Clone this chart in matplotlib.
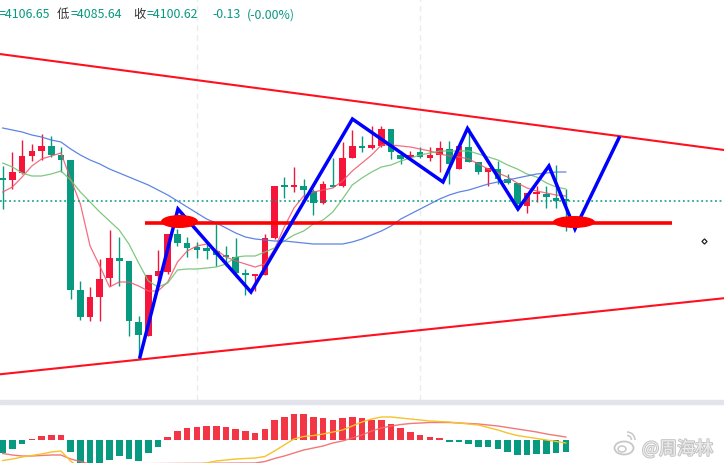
import matplotlib
matplotlib.use('Agg')
import matplotlib.pyplot as plt
from matplotlib.patches import Ellipse, Rectangle, Arc
import matplotlib.patheffects as pe
import numpy as np

plt.rcParams['font.family'] = ['Noto Sans CJK SC', 'DejaVu Sans']

# ---------------- data ----------------
opens = [4112.1, 4111.1, 4114.6, 4123.1, 4125.6, 4128.1, 4123.6, 4121.1, 4056.1, 4042.6,
         4052.6, 4062.1, 4072.1, 4070.6, 4040.1, 4033.1, 4063.1, 4065.1, 4084.1, 4079.6,
         4077.6, 4077.1, 4075.6, 4073.6, 4072.6, 4064.6, 4063.1, 4063.6, 4082.1, 4108.6,
         4107.6, 4108.1, 4105.6, 4099.6, 4108.6, 4108.1, 4122.1, 4128.1, 4127.1, 4128.1,
         4136.6, 4123.6, 4122.6, 4125.1, 4122.1, 4123.6, 4126.6, 4116.6, 4127.6, 4120.1,
         4115.1, 4116.6, 4111.6, 4109.6, 4098.1, 4104.1, 4104.1, 4102.1, 4101.2]
highs = [4118.1, 4125.1, 4131.1, 4129.1, 4134.1, 4133.1, 4127.6, 4121.1, 4060.6, 4057.6,
         4071.6, 4086.1, 4082.6, 4070.6, 4043.1, 4063.6, 4076.1, 4084.1, 4086.6, 4082.6,
         4080.1, 4079.1, 4089.1, 4078.1, 4082.1, 4066.6, 4064.1, 4084.1, 4108.1, 4112.6,
         4117.6, 4111.6, 4106.6, 4110.6, 4122.1, 4130.1, 4136.1, 4133.1, 4138.1, 4138.1,
         4136.6, 4125.6, 4125.6, 4127.6, 4127.6, 4130.6, 4130.6, 4128.1, 4137.1, 4120.1,
         4117.1, 4120.6, 4114.1, 4109.6, 4104.6, 4108.1, 4108.1, 4118.6, 4106.65]
lows = [4096.6, 4106.6, 4114.1, 4120.6, 4121.1, 4122.6, 4115.1, 4051.6, 4041.1, 4040.6,
        4040.6, 4058.1, 4058.1, 4033.1, 4021.6, 4033.1, 4056.6, 4064.1, 4078.1, 4072.6,
        4072.1, 4071.6, 4068.1, 4068.1, 4062.6, 4053.6, 4055.6, 4063.6, 4081.6, 4102.1,
        4105.1, 4101.6, 4093.6, 4099.1, 4107.6, 4107.6, 4122.1, 4125.1, 4126.6, 4127.6,
        4121.6, 4119.1, 4121.6, 4122.1, 4120.6, 4115.1, 4109.1, 4116.6, 4120.1, 4114.1,
        4108.1, 4109.1, 4109.1, 4097.6, 4094.6, 4100.1, 4097.1, 4097.1, 4085.64]
closes = [4111.1, 4115.1, 4123.1, 4125.6, 4128.1, 4123.6, 4121.1, 4056.1, 4042.6, 4052.6,
          4061.6, 4072.1, 4070.6, 4040.6, 4033.6, 4063.6, 4065.6, 4084.1, 4079.6, 4077.1,
          4076.1, 4075.6, 4073.6, 4072.6, 4064.6, 4063.6, 4064.1, 4082.1, 4108.1, 4107.6,
          4108.6, 4106.1, 4099.6, 4109.1, 4107.6, 4122.1, 4128.1, 4127.1, 4128.6, 4136.6,
          4125.1, 4121.6, 4123.6, 4122.6, 4123.6, 4127.1, 4119.1, 4128.1, 4120.1, 4115.1,
          4117.1, 4111.6, 4109.6, 4099.1, 4104.6, 4105.1, 4102.6, 4100.75, 4100.62]

ma_fast = [4105.1, 4107.6, 4112.6, 4118.1, 4121.6, 4123.1, 4124.6, 4111.6, 4099.1, 4078.1,
           4068.1, 4057.6, 4060.1, 4060.1, 4058.1, 4055.6, 4055.6, 4060.1, 4070.1, 4075.6,
           4078.1, 4079.1, 4076.1, 4072.6, 4070.6, 4069.1, 4067.6, 4069.1, 4076.6, 4087.6,
           4097.1, 4103.1, 4105.1, 4106.1, 4107.1, 4110.6, 4115.6, 4119.6, 4123.6, 4128.6,
           4128.6, 4128.1, 4127.6, 4126.6, 4125.6, 4124.1, 4123.1, 4122.6, 4121.6, 4119.1,
           4116.6, 4114.6, 4112.6, 4109.6, 4107.1, 4105.6, 4104.6, 4103.6, 4103.1]
ma_mid = [4119.6, 4117.6, 4114.6, 4113.1, 4113.1, 4114.1, 4115.6, 4111.1, 4105.1, 4100.1,
          4095.1, 4090.6, 4086.1, 4079.1, 4069.6, 4060.6, 4057.6, 4059.6, 4066.1, 4066.6,
          4066.6, 4067.1, 4067.6, 4069.1, 4072.6, 4073.1, 4073.1, 4075.1, 4077.1, 4080.6,
          4083.6, 4085.6, 4089.1, 4091.1, 4095.1, 4101.6, 4108.6, 4112.1, 4115.1, 4117.6,
          4118.6, 4120.6, 4122.1, 4123.6, 4124.6, 4125.6, 4125.6, 4125.6, 4125.6, 4124.1,
          4122.6, 4121.1, 4118.6, 4116.6, 4114.1, 4112.6, 4109.6, 4107.6, 4106.6]
ma_slow = [4137.1, 4136.1, 4135.1, 4133.6, 4132.6, 4131.1, 4130.1, 4126.6, 4123.6, 4121.1,
           4119.1, 4116.6, 4114.6, 4112.6, 4110.6, 4108.6, 4106.1, 4103.6, 4100.6, 4097.6,
           4094.6, 4091.6, 4089.6, 4087.1, 4084.6, 4082.6, 4081.6, 4081.1, 4080.6, 4080.6,
           4080.1, 4079.6, 4079.1, 4079.1, 4079.1, 4079.1, 4080.1, 4081.6, 4083.6, 4085.6,
           4088.1, 4091.6, 4094.1, 4096.6, 4099.1, 4101.6, 4103.6, 4105.1, 4106.1, 4107.6,
           4109.1, 4110.1, 4111.1, 4112.1, 4113.1, 4114.1, 4114.6, 4115.1, 4115.1]

macd_hist = [-1.3, -0.9, -0.4, 0.1, 0.4, 0.5, 0.5, -1.2, -3.0, -3.0,
             -2.8, -2.0, -1.6, -1.9, -2.1, -1.3, -0.7, 0.3, 0.9, 1.2,
             1.3, 1.4, 1.4, 1.3, 1.1, 0.9, 0.7, 1.1, 2.0, 2.3,
             2.6, 2.6, 2.3, 2.2, 2.0, 2.2, 2.3, 2.2, 2.0, 2.0,
             1.6, 1.2, 0.8, 0.5, 0.3, 0.2, -0.2, -0.2, -0.4, -0.7,
             -0.7, -0.9, -1.2, -1.5, -1.5, -1.4, -1.4, -1.3, -1.2]
dif = [-2.08, -1.93, -1.73, -1.58, -1.43, -1.23, -1.13, -2.13,
       -2.93, -3.73, -4.33, -4.73, -4.93, -4.93, -4.73, -4.33, -3.93, -3.43, -3.03, -2.73, -2.48,
       -2.33, -2.13, -2.03, -1.93, -1.88, -1.83, -1.68, -1.13, -0.53, 0.07,
       0.32, 0.42, 0.57, 0.77, 0.97, 1.37, 1.77, 2.07, 2.27, 2.27,
       2.17, 2.07, 1.97, 1.87, 1.82, 1.77, 1.67, 1.57, 1.47, 1.22,
       0.97, 0.67, 0.42, 0.27, 0.12, -0.03, -0.18, -0.33]
dea = [-1.38, -1.53, -1.63, -1.63, -1.58, -1.53, -1.53, -1.93, -2.18, -2.43,
       -2.73, -3.03, -3.23, -3.43, -3.63, -3.73, -3.73, -3.63, -3.53, -3.33,
       -3.13, -2.93, -2.78, -2.63, -2.53, -2.43, -2.33, -2.18, -1.88, -1.63,
       -1.33, -1.03, -0.83, -0.63, -0.33, -0.13, 0.17, 0.47, 0.87, 1.17,
       1.37, 1.52, 1.62, 1.67, 1.72, 1.72, 1.72, 1.67, 1.62, 1.57,
       1.47, 1.37, 1.22, 1.07, 0.92, 0.77, 0.57, 0.42, 0.27]

last_price = 4100.62
support_level = 4089.6
support_span = [14.65, 68.93]
upper_trend = [(0, 4173.9), (60, 4135.3)]
lower_trend = [(0, 4014.1), (60, 4044.7)]
zigzag_x = [14.14, 18.05, 25.57, 36.02, 45.35, 47.87, 53.07, 56.26, 58.94, 63.47]
zigzag_y = [4022.6, 4096.6, 4055.1, 4141.6, 4110.1, 4136.85, 4096.6, 4118.1, 4086.6, 4132.1]
marks = [(18.21, 4090.35, 3.81, 6.5), (58.84, 4090.1, 4.33, 6.0)]
period_lines = [20, 43]

header_parts = [("=4106.65", -1, 'num'), ("低", 57, 'lbl'), ("=4085.64", 71, 'num'),
                ("收", 133, 'lbl'), ("=4100.62", 147, 'num'), ("-0.13", 212, 'num'),
                ("(-0.00%)", 247, 'num')]

# ---------------- style ----------------
RED = '#F5153A'
TEAL = '#089981'
W, H = 724, 464
fig = plt.figure(figsize=(W / 100, H / 100), dpi=100)
fig.patch.set_facecolor('white')

main_top, main_bot = 0, 401
macd_top = 405
ax = fig.add_axes([0, (H - main_bot) / H, 1, (main_bot - main_top) / H])
axm = fig.add_axes([0, 0, 1, (H - macd_top) / H])
for a in (ax, axm):
    for s in a.spines.values():
        s.set_visible(False)
    a.tick_params(left=False, bottom=False, labelleft=False, labelbottom=False)
    a.set_facecolor('white')

x0 = -0.278
x1 = 74.29
ax.set_xlim(x0, x1)
axm.set_xlim(x0, x1)
ax.set_ylim(4001.1, 4201.6)
axm.set_ylim(-2.33, 3.57)

for g in period_lines:
    ax.axvline(g, color='#ebebeb', lw=1.0, ls=(0, (4, 3)), zorder=0)

idx = np.arange(len(opens))
o = np.array(opens); c = np.array(closes)
hi = np.array(highs); lo = np.array(lows)
up = c >= o
cols = np.where(up, RED, TEAL)
ax.vlines(idx, lo, hi, colors=cols, lw=1.0, zorder=2)
bh = np.abs(c - o)
minh = 0.9
bhh = np.maximum(bh, minh)
bb = np.minimum(o, c) - (bhh - bh) / 2
ax.bar(idx, bhh, bottom=bb, width=0.68, color=cols, linewidth=0, zorder=2.5)

ax.plot(idx, ma_fast, color='#F2556A', lw=0.9, alpha=0.85, zorder=3)
ax.plot(idx, ma_mid, color='#72C272', lw=0.9, alpha=0.9, zorder=3)
ax.plot(idx, ma_slow, color='#4C78E0', lw=0.9, alpha=0.9, zorder=3)

ax.axhline(last_price, color=TEAL, lw=1.1, ls=(0, (1.2, 1.8)), zorder=3)

ax.axline(upper_trend[0], upper_trend[1], color='#FF1020', lw=1.5, zorder=4)
ax.axline(lower_trend[0], lower_trend[1], color='#FF1020', lw=1.5, zorder=4)
ax.plot(support_span, [support_level, support_level], color='#FF0000', lw=2.6,
        solid_capstyle='butt', zorder=4)

ax.plot(zigzag_x, zigzag_y, color='#0000FF', lw=2.5, solid_joinstyle='miter', zorder=5)
for (ex, ey, ew, eh) in marks:
    ax.add_patch(Ellipse((ex, ey), ew, eh, color='#FF0000', lw=0, zorder=6))

ax.plot([72.23], [4080.6], marker='D', ms=2.6, mfc='none', mec='#222222', mew=0.9, zorder=6)

# separator band
fig.patches.append(Rectangle((0, (H - macd_top) / H), 1, (macd_top - main_bot) / H,
                             transform=fig.transFigure, color='#E2E3EB', zorder=0))

# MACD
mh = np.array(macd_hist)
axm.bar(idx, mh, width=0.68, color=np.where(mh >= 0, '#F23645', TEAL), linewidth=0, zorder=2)
axm.plot(idx, dea, color='#F06A6A', lw=1.0, alpha=0.9, zorder=3)
axm.plot(idx, dif, color='#F7C22A', lw=1.0, zorder=3)

# header
for txt, px, kind in header_parts:
    fig.text(px / W, 1 - 18.3 / H, txt, ha='left', va='baseline', fontsize=8.9,
             color=TEAL if kind == 'num' else '#333333')

# watermark
wm = fig.text(642 / W, 1 - 450 / H, "@周海林", ha='left', va='center', fontsize=13,
              color='#ededed', zorder=10)
wm.set_path_effects([pe.withStroke(linewidth=1.4, foreground='#c4c4c4')])
fig.patches.append(Ellipse((624 / W, 1 - 449 / H), 19 / W, 13 / H, transform=fig.transFigure,
                           fill=False, ec='#c8c8c8', lw=1.3, zorder=10))
fig.patches.append(Ellipse((622 / W, 1 - 450 / H), 8 / W, 6 / H, transform=fig.transFigure,
                           fill=False, ec='#c8c8c8', lw=1.1, zorder=10))
fig.patches.append(Arc((627 / W, 1 - 441 / H), 16 / W, 16 / H, theta1=0, theta2=90,
                       transform=fig.transFigure, ec='#c8c8c8', lw=1.1, zorder=10))
fig.patches.append(Arc((627 / W, 1 - 441 / H), 9 / W, 9 / H, theta1=0, theta2=90,
                       transform=fig.transFigure, ec='#c8c8c8', lw=1.1, zorder=10))

fig.savefig('out.png', dpi=100)
